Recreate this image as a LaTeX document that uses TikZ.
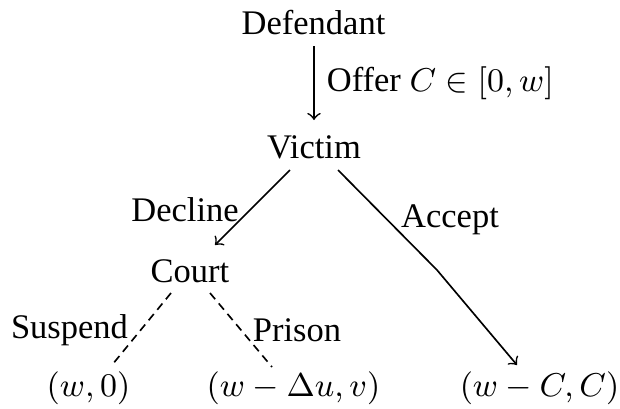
\documentclass[tikz,border=0pt]{standalone}
\usepackage[no-math]{fontspec}
\setmainfont{Liberation Serif}
\usetikzlibrary{calc}
\begin{document}
\begin{tikzpicture}[x=0.2725pt,y=-0.2725pt,
  font=\fontsize{9.4}{11}\selectfont,
  every node/.style={outer sep=0pt},
  lbl/.style={inner sep=1pt},
  branch/.style={line width=0.45pt},
  dashbranch/.style={line width=0.45pt, dash pattern=on 2.2pt off 1.5pt}]
\useasboundingbox (0,0) rectangle (620,408);
\node (D) at (313.5,23) {Defendant};
\node (V) at (314,147) {Victim};
\node (C) at (190,271) {Court};
\node (L1) at (88.5,388) {$(w,0)$};
\node (L2) at (293.5,388) {$(w-\Delta u,v)$};
\node (L3) at (539.5,388) {$(w-C,C)$};
\coordinate (bend) at (437,270);
\draw[branch,->] ($(D)+(0.5,23)$) -- ($(V)+(0,-27)$)
  node[lbl, midway, right=2.5pt] {Offer $C\in[0,w]$};
\draw[branch,->] ($(V)+(-24,23)$) -- ($(C)+(25,-26)$);
\node[lbl] (dec) at (185,210) {Decline};
\draw[branch,->] ($(V)+(24,23)$) -- (bend) -- ($(L3)+(-22.5,-23)$);
\node[lbl] (acc) at (450,220) {Accept};
\draw[dashbranch] ($(C)+(-19,22)$) -- ($(L1)+(23.5,-23)$);
\draw[dashbranch] ($(C)+(20,22)$) -- ($(L2)+(-21.5,-21)$);
\node[lbl] (sus) at (69.5,330) {Suspend};
\node[lbl] (pri) at (297,330) {Prison};
\end{tikzpicture}
\end{document}
